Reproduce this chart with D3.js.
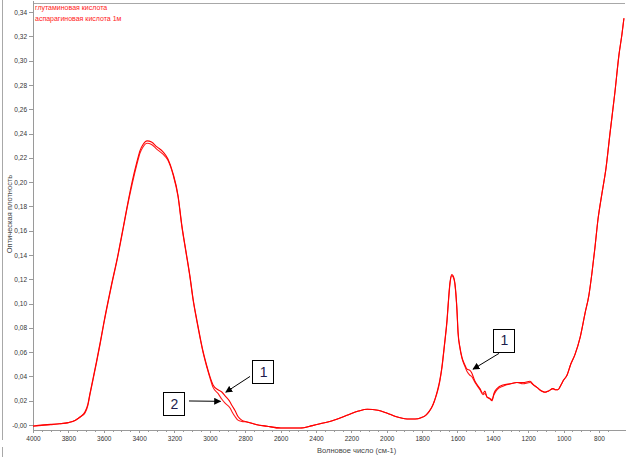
<!DOCTYPE html>
<html>
<head>
<meta charset="utf-8">
<script src="https://cdn.jsdelivr.net/npm/d3@7"></script>
<style>
  body { margin: 0; background: #fff; }
  svg { display: block; font-family: "Liberation Sans", Arial, sans-serif; }
  .axis path, .axis line { stroke: #9a9a9a; shape-rendering: crispEdges; }
  .axis text { fill: #333; font-size: 6.5px; }
  .axis_label { fill: #444; font-size: 7.5px; }
  .legend { fill: #ff2020; font-size: 7px; }
  .spec { fill: none; stroke-width: 1.1; }
</style>
</head>
<body>
<svg width="634" height="457"></svg>
<script>
/* global d3 */

var wavenumber = [4000, 3900, 3850, 3800, 3760, 3730, 3706, 3690, 3678, 3661, 3640, 3620, 3600,
  3560, 3520, 3491, 3469, 3440, 3412, 3395, 3378, 3355, 3330, 3299, 3265, 3237, 3208, 3180,
  3158, 3135, 3112, 3095, 3073, 3056, 3039, 3016, 3000, 2982, 2954, 2931, 2914, 2886, 2875, 2858, 2841, 2820,
  2790, 2740, 2677, 2600, 2490, 2420, 2377, 2300, 2225, 2160, 2110, 2050, 2000, 1950, 1885,
  1840, 1806, 1780, 1761, 1744, 1730, 1716, 1700, 1688, 1674, 1659, 1650, 1642, 1632, 1625,
  1614, 1603, 1597, 1586, 1575, 1560, 1546, 1530, 1520, 1501, 1473, 1456, 1445, 1433, 1420,
  1405, 1394, 1377, 1343, 1300, 1264, 1230, 1190, 1170, 1151, 1125, 1105, 1085, 1060, 1045,
  1032, 1015, 1000, 981, 960, 936, 907, 879, 857, 840, 823, 806, 783, 760, 738, 710, 687,
  670, 659];

var glutamic = [-0.0008, 0.0005, 0.001, 0.002, 0.004, 0.007, 0.011, 0.017, 0.026, 0.038, 0.053, 0.068, 0.084,
  0.113, 0.140, 0.162, 0.179, 0.200, 0.217, 0.226, 0.231, 0.234, 0.233, 0.229, 0.225, 0.219, 0.207, 0.189,
  0.164, 0.143, 0.122, 0.104, 0.086, 0.073, 0.061, 0.048, 0.040, 0.033, 0.029, 0.027, 0.024, 0.019, 0.016, 0.012, 0.007, 0.004,
  0.0025, 0.0005, -0.001, -0.0025, -0.0025, -0.0005, 0.001, 0.004, 0.008, 0.0115, 0.013, 0.0122, 0.0099, 0.007, 0.005,
  0.005, 0.006, 0.008, 0.011, 0.015, 0.020, 0.027, 0.037, 0.048, 0.066, 0.087, 0.105, 0.118, 0.124, 0.123,
  0.116, 0.095, 0.077, 0.064, 0.056, 0.050, 0.046, 0.045, 0.043, 0.036, 0.030, 0.026, 0.028, 0.023, 0.022,
  0.020, 0.026, 0.030, 0.033, 0.034, 0.035, 0.035, 0.036, 0.033, 0.031, 0.028, 0.027, 0.028, 0.030, 0.029,
  0.029, 0.033, 0.037, 0.041, 0.050, 0.058, 0.072, 0.092, 0.107, 0.125, 0.146, 0.169, 0.191, 0.212, 0.240, 0.274, 0.305,
  0.322, 0.335];

var aspartic = [-0.001, 0.0003, 0.001, 0.002, 0.004, 0.007, 0.010, 0.016, 0.025, 0.037, 0.052, 0.067, 0.083,
  0.112, 0.139, 0.161, 0.178, 0.198, 0.215, 0.224, 0.229, 0.232, 0.231, 0.227, 0.223, 0.218, 0.206, 0.188,
  0.163, 0.142, 0.121, 0.103, 0.085, 0.072, 0.060, 0.047, 0.039, 0.031, 0.026, 0.021, 0.018, 0.014, 0.011, 0.007, 0.004, 0.003,
  0.0025, 0.0005, -0.001, -0.0025, -0.0025, -0.0005, 0.001, 0.004, 0.008, 0.0115, 0.013, 0.0122, 0.0099, 0.007, 0.005,
  0.005, 0.006, 0.008, 0.011, 0.015, 0.020, 0.026, 0.036, 0.047, 0.065, 0.086, 0.104, 0.117, 0.123, 0.122,
  0.115, 0.094, 0.076, 0.063, 0.055, 0.049, 0.044, 0.041, 0.040, 0.035, 0.029, 0.025, 0.026, 0.023, 0.022,
  0.021, 0.025, 0.029, 0.032, 0.034, 0.035, 0.034, 0.035, 0.033, 0.031, 0.028, 0.027, 0.028, 0.030, 0.029,
  0.029, 0.033, 0.037, 0.041, 0.050, 0.058, 0.072, 0.092, 0.107, 0.125, 0.146, 0.169, 0.191, 0.212, 0.240, 0.274, 0.305,
  0.322, 0.335];

var seriesNames = ["глутаминовая кислота", "аспарагиновая кислота 1м"];
var xTicks = [4000, 3800, 3600, 3400, 3200, 3000, 2800, 2600, 2400, 2200, 2000, 1800, 1600, 1400, 1200, 1000, 800];
var yTicks = [0, 0.02, 0.04, 0.06, 0.08, 0.10, 0.12, 0.14, 0.16, 0.18, 0.20, 0.22, 0.24, 0.26, 0.28, 0.30, 0.32, 0.34];
var yTickLabels = ["-0,00", "0,02", "0,04", "0,06", "0,08", "0,10", "0,12", "0,14", "0,16", "0,18",
  "0,20", "0,22", "0,24", "0,26", "0,28", "0,30", "0,32", "0,34"];

// callouts: box centre, arrow start, arrow tip (wavenumber, absorbance)
var noteLabels = ["1", "2", "1"];
var noteBox = [[2702, 0.044], [3206, 0.0177], [1340, 0.070]];
var noteFrom = [[2773, 0.040], [3118, 0.0198], [1365, 0.059]];
var noteTo = [[2910, 0.027], [2940, 0.0195], [1512, 0.046]];

var svg = d3.select("svg"),
  margin = { left: 33, right: 9, top: 0, bottom: 27 },
  width = +svg.attr("width") - margin.left - margin.right,
  height = +svg.attr("height") - margin.top - margin.bottom;

var x = d3.scaleLinear().domain([4000, 653]).range([margin.left, margin.left + width]);
var y = d3.scaleLinear().domain([-0.0041, 0.35]).range([margin.top + height, margin.top]);

// outer frame bits
svg.append("line")
  .attr("x1", 2.5).attr("x2", 2.5).attr("y1", 0).attr("y2", 440)
  .attr("stroke", "#a8a8a8");
svg.append("line")
  .attr("x1", 2.5).attr("x2", 2.5).attr("y1", 447).attr("y2", 457)
  .attr("stroke", "#a8a8a8");
svg.append("line")
  .attr("x1", margin.left).attr("x2", margin.left + width).attr("y1", 3.5).attr("y2", 3.5)
  .attr("stroke", "#a8a8a8");

// x axis: minor then major
svg.append("g")
  .attr("class", "axis")
  .attr("transform", "translate(0," + (margin.top + height) + ")")
  .call(d3.axisBottom(x).tickValues(d3.range(4000, 700, -50)).tickSize(2).tickFormat(""))
  .call(g => g.select(".domain").remove());

svg.append("g")
  .attr("class", "axis")
  .attr("transform", "translate(0," + (margin.top + height) + ")")
  .call(d3.axisBottom(x).tickValues(xTicks).tickSize(3).tickSizeOuter(0).tickPadding(3).tickFormat(d3.format("d")));

svg.append("g")
  .attr("class", "axis")
  .attr("transform", "translate(" + margin.left + ",0)")
  .call(d3.axisLeft(y).tickValues(yTicks).tickSize(4).tickSizeOuter(0).tickPadding(2)
    .tickFormat(function(d, i) { return yTickLabels[i]; }));

svg.selectAll(".axis line").attr("stroke", "#666");

svg.append("text")
  .attr("class", "axis_label")
  .attr("x", 317)
  .attr("y", 453)
  .text("Волновое число (см-1)");

svg.append("text")
  .attr("class", "axis_label")
  .attr("text-anchor", "middle")
  .attr("transform", "translate(12,214)rotate(-90)")
  .text("Оптическая плотность");

// spectra
var line = d3.line()
  .x(function(d) { return x(d[0]); })
  .y(function(d) { return y(d[1]); })
  .curve(d3.curveMonotoneX);

var series = [aspartic, glutamic];
var colors = ["#ff1a1a", "#ff0000"];

svg.selectAll("path.spec")
  .data(series)
  .enter()
  .append("path")
  .attr("class", "spec")
  .attr("stroke", function(d, i) { return colors[i]; })
  .attr("d", function(vals) {
    return line(wavenumber.map(function(w, i) { return [w, vals[i]]; }));
  });

// legend
svg.selectAll("text.legend")
  .data(seriesNames)
  .enter()
  .append("text")
  .attr("class", "legend")
  .attr("x", 35)
  .attr("y", function(d, i) { return 10 + i * 10.5; })
  .text(function(d) { return d; });

// callouts
svg.append("defs").append("marker")
  .attr("id", "head")
  .attr("viewBox", "0 0 10 10")
  .attr("refX", 9).attr("refY", 5)
  .attr("markerWidth", 7).attr("markerHeight", 7)
  .attr("markerUnits", "userSpaceOnUse")
  .attr("orient", "auto")
  .append("path")
  .attr("d", "M0,0L10,5L0,10z")
  .attr("fill", "#000");

svg.selectAll("line.arrow")
  .data(noteLabels)
  .enter()
  .append("line")
  .attr("class", "arrow")
  .attr("x1", function(d, i) { return x(noteFrom[i][0]); })
  .attr("y1", function(d, i) { return y(noteFrom[i][1]); })
  .attr("x2", function(d, i) { return x(noteTo[i][0]); })
  .attr("y2", function(d, i) { return y(noteTo[i][1]); })
  .attr("stroke", "#000")
  .attr("stroke-width", 1)
  .attr("marker-end", "url(#head)");

var boxW = 21, boxH = 23;
svg.selectAll("rect.note")
  .data(noteLabels)
  .enter()
  .append("rect")
  .attr("class", "note")
  .attr("x", function(d, i) { return Math.round(x(noteBox[i][0]) - boxW / 2) + 0.5; })
  .attr("y", function(d, i) { return Math.round(y(noteBox[i][1]) - boxH / 2) + 0.5; })
  .attr("width", boxW)
  .attr("height", boxH)
  .attr("fill", "#fff")
  .attr("stroke", "#000");

svg.selectAll("text.note")
  .data(noteLabels)
  .enter()
  .append("text")
  .attr("class", "note")
  .attr("x", function(d, i) { return x(noteBox[i][0]) + 1; })
  .attr("y", function(d, i) { return y(noteBox[i][1]) + 5; })
  .attr("text-anchor", "middle")
  .attr("font-size", 14)
  .attr("fill", "#1c1c4c")
  .text(function(d) { return d; });
</script>
</body>
</html>
